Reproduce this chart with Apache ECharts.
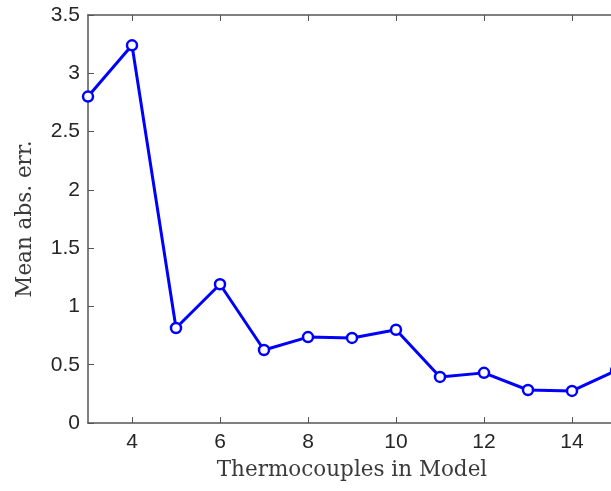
<!DOCTYPE html>
<html><head><meta charset="utf-8">
<script src="https://cdn.jsdelivr.net/npm/echarts@6/dist/echarts.min.js"></script>
<style>html,body{margin:0;padding:0;overflow:hidden;background:#fff;width:611px;height:491px}#c{width:700px;height:491px}</style>
</head><body><div id="c"></div>
<script>
const xValues = [3,4,5,6,7,8,9,10,11,12,13,14,15];
const meanAbsErr = [2.80,3.24,0.815,1.19,0.626,0.737,0.73,0.80,0.395,0.43,0.283,0.275,0.45];
const xTicks = [4,6,8,10,12,14];
const yTicks = [0,0.5,1,1.5,2,2.5,3,3.5];

const chart = echarts.init(document.getElementById('c'));
const axisColor = '#555';
chart.setOption({
  animation:false,
  grid:{left:88, top:15, width:528, height:408},
  xAxis:[{
    type:'value', min:3, max:15, interval:1,
    axisLine:{show:true, onZero:false, lineStyle:{color:axisColor, width:1.5}},
    axisTick:{show:true, inside:true, length:6, lineStyle:{color:axisColor},
      customValues: xTicks},
    axisLabel:{color:'#262626', fontFamily:'Liberation Sans, Arial', fontSize:21, margin:9,
      customValues: xTicks, formatter: v=>String(v)},
    splitLine:{show:false},
    name:'Thermocouples in Model', nameLocation:'middle', nameGap:36,
    nameTextStyle:{color:'#3a3a3a', fontFamily:'DejaVu Serif', fontSize:21.5}
  },{
    type:'value', min:3, max:15, position:'top',
    axisLine:{show:true, onZero:false, lineStyle:{color:axisColor, width:1.5}},
    axisTick:{show:true, inside:true, length:6, lineStyle:{color:axisColor}, customValues:xTicks},
    axisLabel:{show:false}, splitLine:{show:false}
  }],
  yAxis:[{
    type:'value', min:0, max:3.5, interval:0.5,
    axisLine:{show:true, onZero:false, lineStyle:{color:axisColor, width:1.5}},
    axisTick:{show:true, inside:true, length:6, lineStyle:{color:axisColor}},
    axisLabel:{color:'#262626', fontFamily:'Liberation Sans, Arial', fontSize:21, margin:8,
      customValues: yTicks, formatter: v=>String(v)},
    splitLine:{show:false},
    name:'Mean abs. err.', nameLocation:'middle', nameGap:52,
    nameTextStyle:{color:'#3a3a3a', fontFamily:'DejaVu Serif', fontSize:21.5}
  }],
  series:[{
    type:'line',
    data: xValues.map((x,i)=>[x, meanAbsErr[i]]),
    lineStyle:{color:'#0000ff', width:3},
    itemStyle:{color:'#fff', borderColor:'#0000ff', borderWidth:2.5},
    symbol:'circle', symbolSize:10, showSymbol:true,
    clip:true
  }]
});
</script></body></html>
